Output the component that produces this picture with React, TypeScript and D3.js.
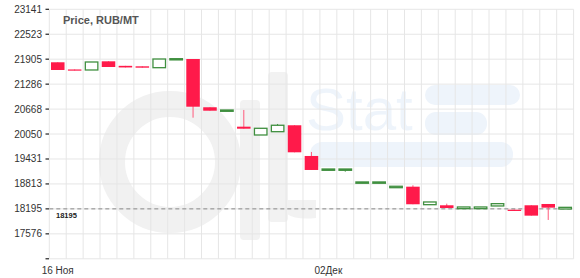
import React from "react";
import * as d3 from "d3";

const dates = [
  "2020-11-16", "2020-11-17", "2020-11-18", "2020-11-19", "2020-11-20", "2020-11-21",
  "2020-11-22", "2020-11-23", "2020-11-24", "2020-11-25", "2020-11-26", "2020-11-27",
  "2020-11-28", "2020-11-29", "2020-11-30", "2020-12-01", "2020-12-02", "2020-12-03",
  "2020-12-04", "2020-12-05", "2020-12-06", "2020-12-07", "2020-12-08", "2020-12-09",
  "2020-12-10", "2020-12-11", "2020-12-12", "2020-12-13", "2020-12-14", "2020-12-15",
  "2020-12-16",
];
const openValues = [
  21828, 21650, 21637, 21852, 21740, 21728, 21694, 21893, 21909, 20713, 20613, 20232,
  20026, 20108, 20267, 19506, 19151, 19151, 18830, 18830, 18720, 18745, 18299, 18284,
  18200, 18200, 18267, 18175, 18284, 18316, 18192,
];
const closeValues = [
  21637, 21625, 21835, 21711, 21700, 21694, 21909, 21917, 20727, 20628, 20645, 20182,
  20192, 20267, 19597, 19159, 19183, 19183, 18862, 18862, 18755, 18309, 18366, 18217,
  18242, 18242, 18324, 18143, 18027, 18225, 18233,
];
const highValues = [
  21828, 21650, 21835, 21852, 21740, 21728, 21909, 21917, 21909, 20713, 20645, 20646,
  20192, 20299, 20267, 19605, 19183, 19183, 18862, 18862, 18755, 18780, 18366, 18324,
  18242, 18242, 18324, 18175, 18284, 18316, 18233,
];
const lowValues = [
  21637, 21625, 21637, 21711, 21700, 21694, 21694, 21893, 20455, 20628, 20613, 20182,
  20026, 20108, 19597, 19159, 19151, 19117, 18830, 18830, 18720, 18309, 18299, 18217,
  18200, 18200, 18267, 18143, 18027, 17920, 18192,
];
const yTickValues = [16958, 17576, 18195, 18813, 19431, 20050, 20668, 21286, 21905, 22523, 23141];
const yTickLabels = ["", "17576", "18195", "18813", "19431", "20050", "20668", "21286", "21905", "22523", "23141"];
const xTickDates = ["2020-11-16", "2020-12-02"];
const xTickLabels = ["16 Ноя", "02Дек"];
const lastPrice = 18195;
const lastPriceLabel = "18195";
const title = "Price, RUB/MT";

const W = 580;
const H = 278;
const left = 49.3;
const right = 573.6;
const top = 9.3;
const bottom = 258.8;
const FONT = "'Liberation Sans', Arial, sans-serif";
const RED = "#ff1a4a";
const GREEN = "#3f8f3f";

export default function App() {
  const x = d3.scaleBand<string>().domain(dates).range([left, right]).padding(0);
  const y = d3.scaleLinear().domain([16957.6, 23141]).range([bottom, top]);
  const step = x.step();
  const bodyW = step * 0.8;

  const candles = dates.map((d, i) => ({
    d,
    o: openValues[i],
    c: closeValues[i],
    h: highValues[i],
    l: lowValues[i],
  }));

  const gridX = d3.range(dates.length + 1).map((i) => left + step * i);

  return (
    <svg
      width={W}
      height={H}
      style={{ position: "absolute", left: 0, top: 0, background: "#fff" }}
      fontFamily={FONT}
    >
      {/* watermark */}
      <g>
        <circle cx={170} cy={162} r={58} fill="none" stroke="#f1f1f1" strokeWidth={26} />
        <rect x={240} y={100} width={20} height={140} fill="#f2f2f2" rx={4} />
        <rect x={268} y={72} width={20} height={150} fill="#f2f2f2" rx={4} />
        <path d="M278,200 Q282,222 316,218 L316,200 Z" fill="#f2f2f2" />
        <text x={306} y={130} fontSize={60} fill="#eef4fb" fontFamily={FONT}>
          Stat
        </text>
        <rect x={425} y={85} width={95} height={20} rx={10} fill="#eef4fb" />
        <rect x={425} y={112} width={62} height={23} rx={11} fill="#eef4fb" />
        <rect x={310} y={142} width={203} height={25} rx={12} fill="#eef4fb" />
      </g>

      {/* grid */}
      {gridX.map((gx, i) => (
        <line key={"gx" + i} x1={gx} x2={gx} y1={top} y2={bottom} stroke="#e6e6e6" strokeWidth={1} />
      ))}
      {yTickValues.map((v, i) => (
        <line key={"gy" + i} x1={left} x2={right} y1={y(v)} y2={y(v)} stroke="#e6e6e6" strokeWidth={1} />
      ))}

      {/* y axis ticks and labels */}
      {yTickValues.map((v, i) => (
        <g key={"yt" + i}>
          <line x1={45.5} x2={49} y1={y(v)} y2={y(v)} stroke="#222" strokeWidth={1.2} />
          <text x={42} y={y(v)} dy="0.35em" textAnchor="end" fontSize={10} fill="#333">
            {yTickLabels[i]}
          </text>
        </g>
      ))}

      {/* x labels */}
      {xTickDates.map((d, i) => (
        <text key={"xt" + i} x={(x(d) as number) + step / 2} y={274} textAnchor="middle" fontSize={10} fill="#333">
          {xTickLabels[i]}
        </text>
      ))}

      {/* title */}
      <text x={63} y={24} fontSize={11} fontWeight="bold" fill="#555">
        {title}
      </text>

      {/* last price line */}
      <line
        x1={left}
        x2={right}
        y1={y(lastPrice)}
        y2={y(lastPrice)}
        stroke="#888"
        strokeWidth={1}
        strokeDasharray="4,3"
      />
      <text x={56} y={y(lastPrice) + 9} fontSize={7.5} fontWeight="bold" fill="#222">
        {lastPriceLabel}
      </text>

      {/* candles */}
      {candles.map((c) => {
        const cx = (x(c.d) as number) + step / 2;
        const up = c.c >= c.o;
        const yTop = y(Math.max(c.o, c.c));
        const yBot = y(Math.min(c.o, c.c));
        const hgt = Math.max(1.2, yBot - yTop);
        return (
          <g key={c.d}>
            <line
              x1={cx}
              x2={cx}
              y1={y(c.h)}
              y2={y(c.l)}
              stroke={up ? GREEN : "#ff5a7c"}
              strokeWidth={1}
            />
            {up ? (
              <rect
                x={cx - bodyW / 2 + 0.5}
                y={yTop}
                width={bodyW - 1}
                height={hgt}
                fill="#fff"
                stroke={GREEN}
                strokeWidth={1.3}
              />
            ) : (
              <rect x={cx - bodyW / 2} y={yTop} width={bodyW} height={hgt} fill={RED} />
            )}
          </g>
        );
      })}
    </svg>
  );
}
